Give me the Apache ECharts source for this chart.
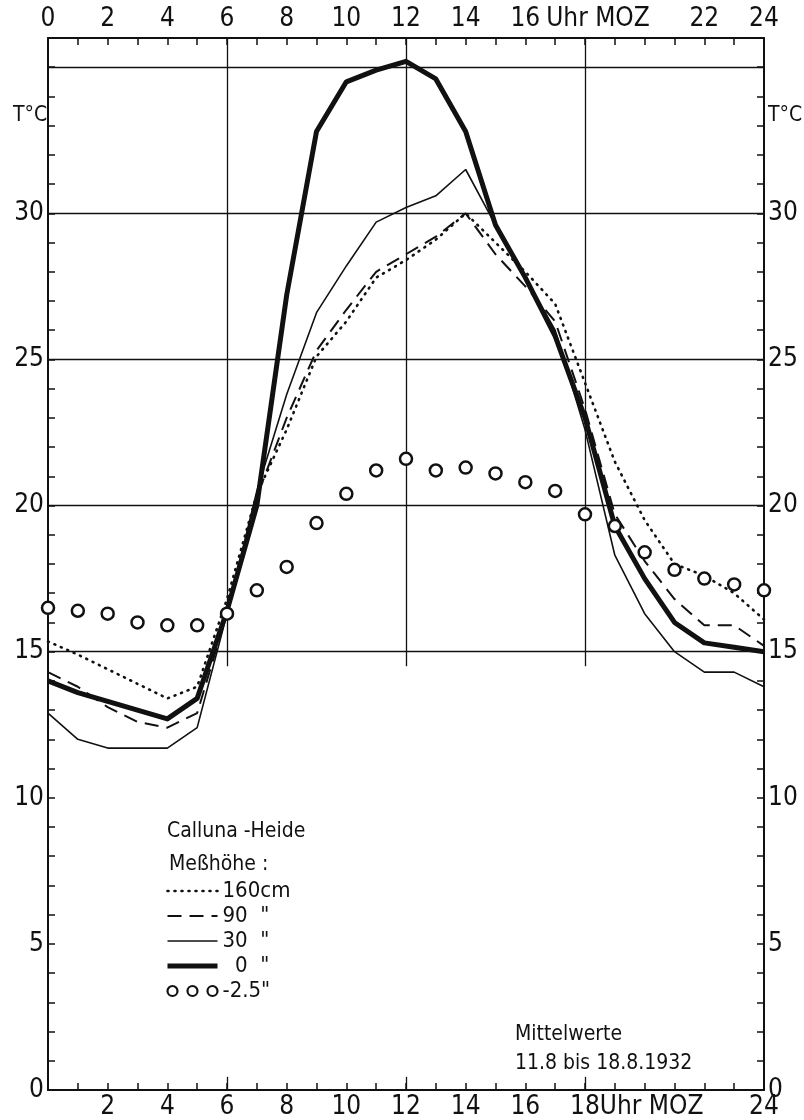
<!DOCTYPE html>
<html>
<head>
<meta charset="utf-8">
<script src="https://cdn.jsdelivr.net/npm/echarts@6/dist/echarts.min.js"></script>
<style>
html,body{margin:0;padding:0;background:#fff;}
#chart{width:804px;height:1120px;}
</style>
</head>
<body>
<div id="chart"></div>
<script>
// ---- data ----
const hours = [0,1,2,3,4,5,6,7,8,9,10,11,12,13,14,15,16,17,18,19,20,21,22,23,24];
const temp160 = [15.35,14.9,14.4,13.9,13.4,13.8,16.8,20.4,22.6,25.1,26.3,27.8,28.4,29.1,30.0,29.0,28.0,26.9,24.2,21.5,19.5,18.0,17.6,17.0,16.1];
const temp90  = [14.3,13.8,13.1,12.6,12.4,12.9,16.3,20.3,23.0,25.3,26.7,28.0,28.6,29.2,30.0,28.6,27.5,26.3,23.3,19.7,18.1,16.8,15.9,15.9,15.2];
const temp30  = [12.9,12.0,11.7,11.7,11.7,12.4,16.3,20.5,23.8,26.6,28.2,29.7,30.2,30.6,31.5,29.6,27.8,26.0,22.6,18.3,16.3,15.0,14.3,14.3,13.8];
const temp0   = [14.0,13.6,13.3,13.0,12.7,13.4,16.4,20.0,27.2,32.8,34.5,34.9,35.2,34.6,32.8,29.6,27.8,25.8,23.0,19.3,17.5,16.0,15.3,15.15,15.0];
const tempM25 = [16.5,16.4,16.3,16.0,15.9,15.9,16.3,17.1,17.9,19.4,20.4,21.2,21.6,21.2,21.3,21.1,20.8,20.5,19.7,19.3,18.4,17.8,17.5,17.3,17.1];
const seriesNames = ['160cm', '90  "', '30  "', '  0  "', '-2.5"'];
const yLabels = [0,5,10,15,20,25,30];
const gridTemps = [15,20,25,30,35];
const gridHours = [6,12,18];
const topLabels = {0:'0',2:'2',4:'4',6:'6',8:'8',10:'10',12:'12',14:'14',16:'16',18:'{u|Uhr MOZ}',22:'22',24:'24'};
const bottomLabels = {2:'2',4:'4',6:'6',8:'8',10:'10',12:'12',14:'14',16:'16',18:'18',20:'{v|Uhr MOZ}',24:'24'};

// ---- build ----
const FONT = "'DejaVu Sans Condensed','Liberation Sans Narrow',Roboto,sans-serif";
const pair = arr => hours.map((h,i)=>[h,arr[i]]);
const black = '#111';
const AX = 26;

const chart = echarts.init(document.getElementById('chart'), null, {renderer:'canvas'});

const xAxisBase = {
  type:'value', min:0, max:24, interval:1,
  axisLine:{show:true, onZero:false, lineStyle:{color:black, width:2}},
  axisTick:{show:true, inside:true, length:7, lineStyle:{color:black, width:1.5}},
  splitLine:{show:false},
};
const yAxisBase = {
  type:'value', min:0, max:36, interval:1,
  axisLine:{show:true, onZero:false, lineStyle:{color:black, width:2}},
  axisTick:{show:true, inside:true, length:7, lineStyle:{color:black, width:1.5}},
  splitLine:{show:false},
  axisLabel:{
    fontFamily:FONT, fontSize:AX, color:black, margin:4,
    formatter: v => yLabels.indexOf(v) >= 0 ? String(v) : ''
  }
};

const gridLineData = [];
gridTemps.forEach(t => gridLineData.push([{coord:[0,t]},{coord:[24,t]}]));
gridHours.forEach(h => gridLineData.push([{coord:[h,14.5]},{coord:[h,36]}]));
gridHours.forEach(h => gridLineData.push([{coord:[h,0]},{coord:[h,0.45]}]));

const styles = [
  {width:2.6, type:[1,6], cap:'round'},
  {width:2, type:[14,8]},
  {width:1.6, type:'solid'},
  {width:5, type:'solid', join:'round'}
];
const lineSeries = (idx, arr, z) => ({
  name:seriesNames[idx], type:'line', data:pair(arr), symbol:'none', smooth:false,
  xAxisIndex:0, yAxisIndex:0, z,
  lineStyle:Object.assign({color:black}, styles[idx]),
  itemStyle:{color:black},
  emphasis:{disabled:true}, silent:true
});
const hideSym = {color:'rgba(0,0,0,0)', borderColor:'rgba(0,0,0,0)', borderWidth:0};
const tStyle = {fontFamily:FONT, fontSize:21, fontWeight:'normal', color:black};
const legendLine = idx => ({name:seriesNames[idx], itemStyle:hideSym,
  lineStyle:Object.assign({color:black}, styles[idx])});

const option = {
  backgroundColor:'#fff',
  animation:false,
  textStyle:{fontFamily:FONT},
  title:[
    {text:'T°C', left:8, top:100, textStyle:tStyle},
    {text:'T°C', left:763, top:100, textStyle:tStyle},
    {text:'Calluna -Heide', left:162, top:816, textStyle:tStyle},
    {text:'Meßhöhe :', left:164, top:849, textStyle:tStyle},
    {text:'Mittelwerte\n11.8 bis 18.8.1932', left:510, top:1015, textStyle:Object.assign({}, tStyle, {lineHeight:29})}
  ],
  grid:{left:48, right:40, top:38, bottom:26, containLabel:false},
  legend:{
    orient:'vertical', left:160, top:874, itemWidth:50, itemHeight:10, itemGap:1,
    textStyle:{fontFamily:FONT, fontSize:22, color:black, lineHeight:24},
    selectedMode:false,
    data:[
      legendLine(0), legendLine(1), legendLine(2), legendLine(3),
      {name:seriesNames[4], icon:'path://M0,5a5,5 0 1,0 10,0a5,5 0 1,0 -10,0M20,5a5,5 0 1,0 10,0a5,5 0 1,0 -10,0M40,5a5,5 0 1,0 10,0a5,5 0 1,0 -10,0',
        itemStyle:{color:'rgba(0,0,0,0)', borderColor:black, borderWidth:2.2}}
    ]
  },
  xAxis:[
    Object.assign({}, xAxisBase, {position:'bottom',
      axisLabel:{fontFamily:FONT, fontSize:AX, color:black, margin:4,
        formatter: v => bottomLabels[v] || '',
        rich:{v:{fontFamily:FONT, fontSize:AX, color:black, padding:[0,0,0,14]}}}}),
    Object.assign({}, xAxisBase, {position:'top',
      axisLabel:{fontFamily:FONT, fontSize:AX, color:black, margin:6,
        formatter: v => topLabels[v] || '',
        rich:{u:{fontFamily:FONT, fontSize:AX, color:black, padding:[0,0,0,26]}}}})
  ],
  yAxis:[
    Object.assign({}, yAxisBase, {position:'left'}),
    Object.assign({}, yAxisBase, {position:'right'})
  ],
  series:[
    {
      name:'grid', type:'line', data:[], xAxisIndex:0, yAxisIndex:0, silent:true, z:1,
      markLine:{silent:true, symbol:'none', label:{show:false},
        lineStyle:{color:black, width:1.3, type:'solid'},
        emphasis:{disabled:true},
        data:gridLineData}
    },
    lineSeries(0, temp160, 3),
    lineSeries(1, temp90, 3),
    lineSeries(2, temp30, 4),
    lineSeries(3, temp0, 5),
    {
      name:seriesNames[4], type:'scatter', data:pair(tempM25), symbol:'circle', symbolSize:12,
      itemStyle:{color:'#fff', borderColor:black, borderWidth:2.5, opacity:1}, z:6, silent:true,
      emphasis:{disabled:true}
    }
  ]
};
chart.setOption(option);
</script>
</body>
</html>
